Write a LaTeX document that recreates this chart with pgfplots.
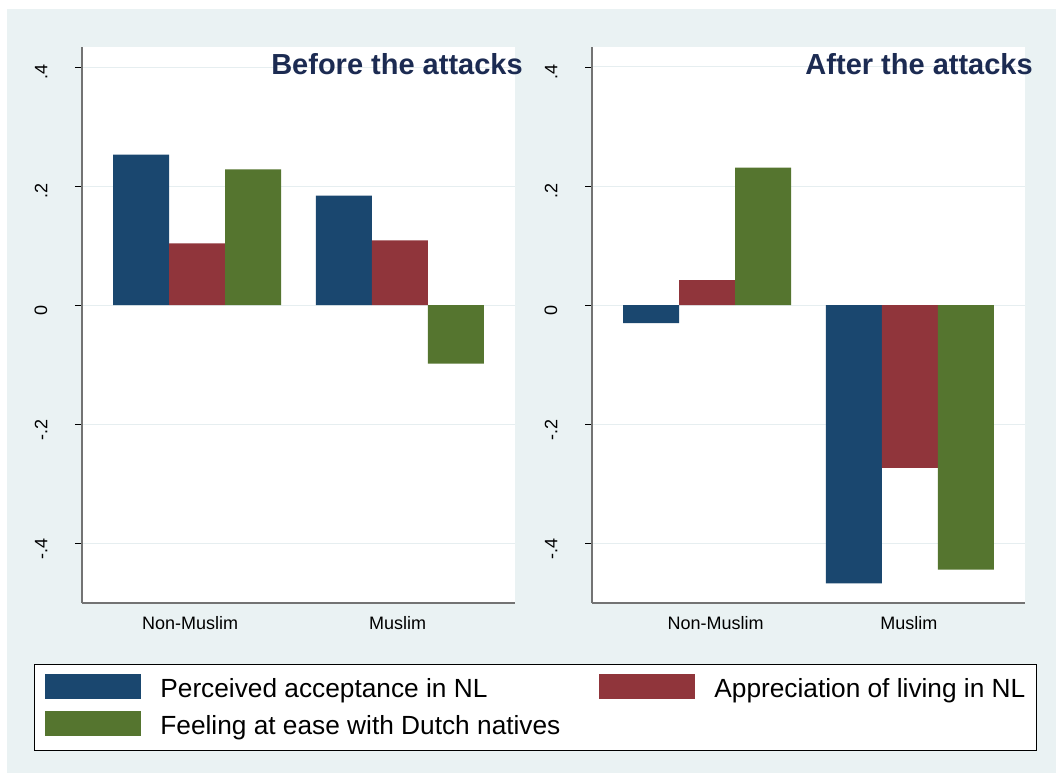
\documentclass[border=0pt]{standalone}
\usepackage{fontspec}
\setmainfont{Liberation Sans}
\usepackage{pgfplots}
\pgfplotsset{compat=1.18}
\definecolor{bg}{HTML}{EAF2F3}
\definecolor{sblue}{HTML}{1A476F}
\definecolor{sred}{HTML}{90353B}
\definecolor{sgreen}{HTML}{55752F}
\definecolor{ttl}{HTML}{1C2B52}
\definecolor{gridc}{HTML}{E6EEF0}

\pgfplotsset{
 ybar legend/.style={legend image code/.code={\fill[##1] (0pt,-1.5pt) rectangle (72pt,17.25pt);}},
 panel/.style={
  scale only axis, width=324.75pt, height=417pt,
  anchor=south west,
  xmin=0.433, xmax=2.567, ymin=-0.5, ymax=0.4336,
  axis x line*=bottom, axis y line*=left,
  axis line style={draw=black!55, line width=0.9pt},
  axis background/.style={fill=white},
  xticklabels={Non-Muslim,Muslim},
  ytick={-0.4,-0.2,0,0.2,0.4}, yticklabels={-.4,-.2,0,.2,.4},
  xtick style={draw=none},
  ytick style={draw=black, line width=0.6pt},
  tick align=outside, major tick length=5.25pt,
  ymajorgrids, grid style={draw=gridc, line width=0.75pt},
  ticklabel style={font=\fontsize{13.5}{16}\selectfont},
  yticklabel style={xshift=-17.25pt, yshift=-4pt, rotate=90, anchor=south},
  xticklabel style={yshift=-1pt},
  ybar=0pt, bar width=42pt,
  every axis plot/.append style={draw=none},
  title style={at={(1,1)}, anchor=base east, inner sep=0pt, xshift=6pt, yshift=-27pt, font=\fontsize{21.75}{26}\selectfont\bfseries, text=ttl},
 }
}

\begin{document}
\begin{tikzpicture}
\path[use as bounding box] (0pt,0pt) rectangle (792pt,579.75pt);
\fill[bg] (5.25pt,0pt) rectangle (792pt,573pt);

\begin{axis}[panel, at={(61.5pt,127.5pt)}, title={Before the attacks},
  xtick={0.966,1.988},
  legend columns=2,
  legend style={at={(-0.1109,-0.1097)}, anchor=north west, draw=black, line width=0.6pt, fill=white,
    inner xsep=8.25pt, inner ysep=7.5pt, row sep=6pt,
    nodes={inner sep=0pt, anchor=base, text height=17.25pt, text depth=4.5pt, font=\fontsize{19.7}{23}\selectfont},
    /tikz/every odd column/.append style={column sep=14.25pt},
    /tikz/every even column/.append style={column sep=0pt}},
]
\addplot[fill=sblue] coordinates {(1,0.253) (2,0.184)};
\addlegendentry{\makebox[329.25pt][l]{Perceived acceptance in NL}}
\addplot[fill=sred] coordinates {(1,0.104) (2,0.109)};
\addlegendentry{\makebox[233.25pt][l]{Appreciation of living in NL}}
\addplot[fill=sgreen] coordinates {(1,0.228) (2,-0.098)};
\addlegendentry{\makebox[329.25pt][l]{Feeling at ease with Dutch natives}}
\end{axis}

\begin{axis}[panel, at={(444pt,127.5pt)}, title={After the attacks},
  xtick={1.042,1.995}]
\addplot[fill=sblue] coordinates {(1,-0.030) (2,-0.467)};
\addplot[fill=sred] coordinates {(1,0.042) (2,-0.273)};
\addplot[fill=sgreen] coordinates {(1,0.231) (2,-0.444)};
\end{axis}
\end{tikzpicture}
\end{document}
